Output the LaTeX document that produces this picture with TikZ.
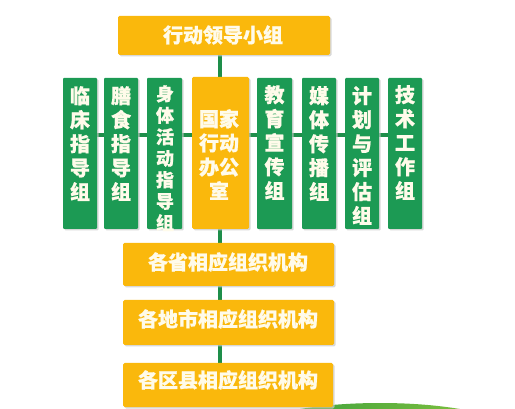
\documentclass[tikz,border=0pt]{standalone}
\usepackage{fontspec}
\newfontfamily\cjk{Noto Sans CJK SC}[BoldFeatures={FakeBold=0.8}]
\usetikzlibrary{shadings}
\definecolor{orgbox}{HTML}{FAB80C}
\definecolor{grnbox}{HTML}{1C9A54}
\definecolor{grnline}{HTML}{1E8E4A}
\definecolor{shd}{HTML}{C8C8C8}
\definecolor{swA}{HTML}{2F9A3C}
\definecolor{swB}{HTML}{8CC63F}
\definecolor{txt}{HTML}{FFFBEA}
\tikzset{
  obox/.style={fill=orgbox, rounded corners=1.5pt, inner sep=0pt, draw=none},
  gbox/.style={fill=grnbox, rounded corners=1pt, inner sep=0pt, draw=none},
  shadowed/.style={preaction={fill=shd, opacity=0.7, transform canvas={shift={(1.5pt,-1.5pt)}}}},
  htext/.style={text=txt, font={\cjk\bfseries\fontsize{20}{22}\selectfont}, inner sep=0pt},
  vtext/.style={text=txt, align=center, anchor=north, inner sep=0pt, font={\cjk\bfseries\fontsize{20}{24}\selectfont}},
  vtexts/.style={text=txt, align=center, anchor=north, inner sep=0pt, font={\cjk\bfseries\fontsize{18}{21.5}\selectfont}},
  conn/.style={draw=grnline, line width=4pt},
}
\begin{document}
\begin{tikzpicture}[x=1pt,y=-1pt]
\useasboundingbox (0,0) rectangle (515,409);
% swoosh
\begin{scope}
\clip (0,0) rectangle (515,409);
\shade[left color=swA, right color=swB] (380,433) ellipse [x radius=133, y radius=30];
\end{scope}
% connectors coordinates
\coordinate (vtop) at (220,55);
\coordinate (vbot) at (220,380);
\coordinate (hl) at (80,135);
\coordinate (hr) at (405,135);
\draw[conn] (vtop) -- (vbot);
\draw[conn] (hl) -- (hr);
% top box
\node[obox, shadowed, minimum width=212, minimum height=39] (lead) at (224,35.5) {};
\node[htext] (leadt) at (223,35) {行动领导小组};
% green boxes
\node[gbox, shadowed, minimum width=34, minimum height=151] (g1) at (80,153.5) {};
\node[gbox, shadowed, minimum width=34, minimum height=151] (g2) at (121,153.5) {};
\node[gbox, shadowed, minimum width=35, minimum height=151] (g3) at (164.5,153.5) {};
\node[obox, shadowed, minimum width=57, minimum height=152] (office) at (220.5,153) {};
\node[gbox, shadowed, minimum width=35, minimum height=151] (g5) at (274.5,153.5) {};
\node[gbox, shadowed, minimum width=34, minimum height=151] (g6) at (319,153.5) {};
\node[gbox, shadowed, minimum width=34, minimum height=151] (g7) at (362,153.5) {};
\node[gbox, shadowed, minimum width=34, minimum height=151] (g8) at (405,153.5) {};
% vertical texts
\node[vtext] (t1) at (80,86) {临\\床\\指\\导\\组};
\node[vtext] (t2) at (121,86) {膳\\食\\指\\导\\组};
\node[vtexts] (t3) at (165,85) {身\\体\\活\\动\\指\\导\\组};
\node[vtext] (t4) at (219,109) {国家\\行动\\办公\\室};
\node[vtext] (t5) at (274.5,85) {教\\育\\宣\\传\\组};
\node[vtext] (t6) at (319,86) {媒\\体\\传\\播\\组};
\node[vtext] (t7) at (362,86) {计\\划\\与\\评\\估\\组};
\node[vtext] (t8) at (405,85) {技\\术\\工\\作\\组};
% lower boxes
\node[obox, shadowed, minimum width=211, minimum height=43] (prov) at (228.5,264.5) {};
\node[htext] (provt) at (228,262) {各省相应组织机构};
\node[obox, shadowed, minimum width=211, minimum height=45] (city) at (228.5,322.5) {};
\node[htext] (cityt) at (228,319) {各地市相应组织机构};
\node[obox, shadowed, minimum width=210, minimum height=44] (cnty) at (228,385) {};
\node[htext] (cntyt) at (228,380) {各区县相应组织机构};
\end{tikzpicture}
\end{document}
